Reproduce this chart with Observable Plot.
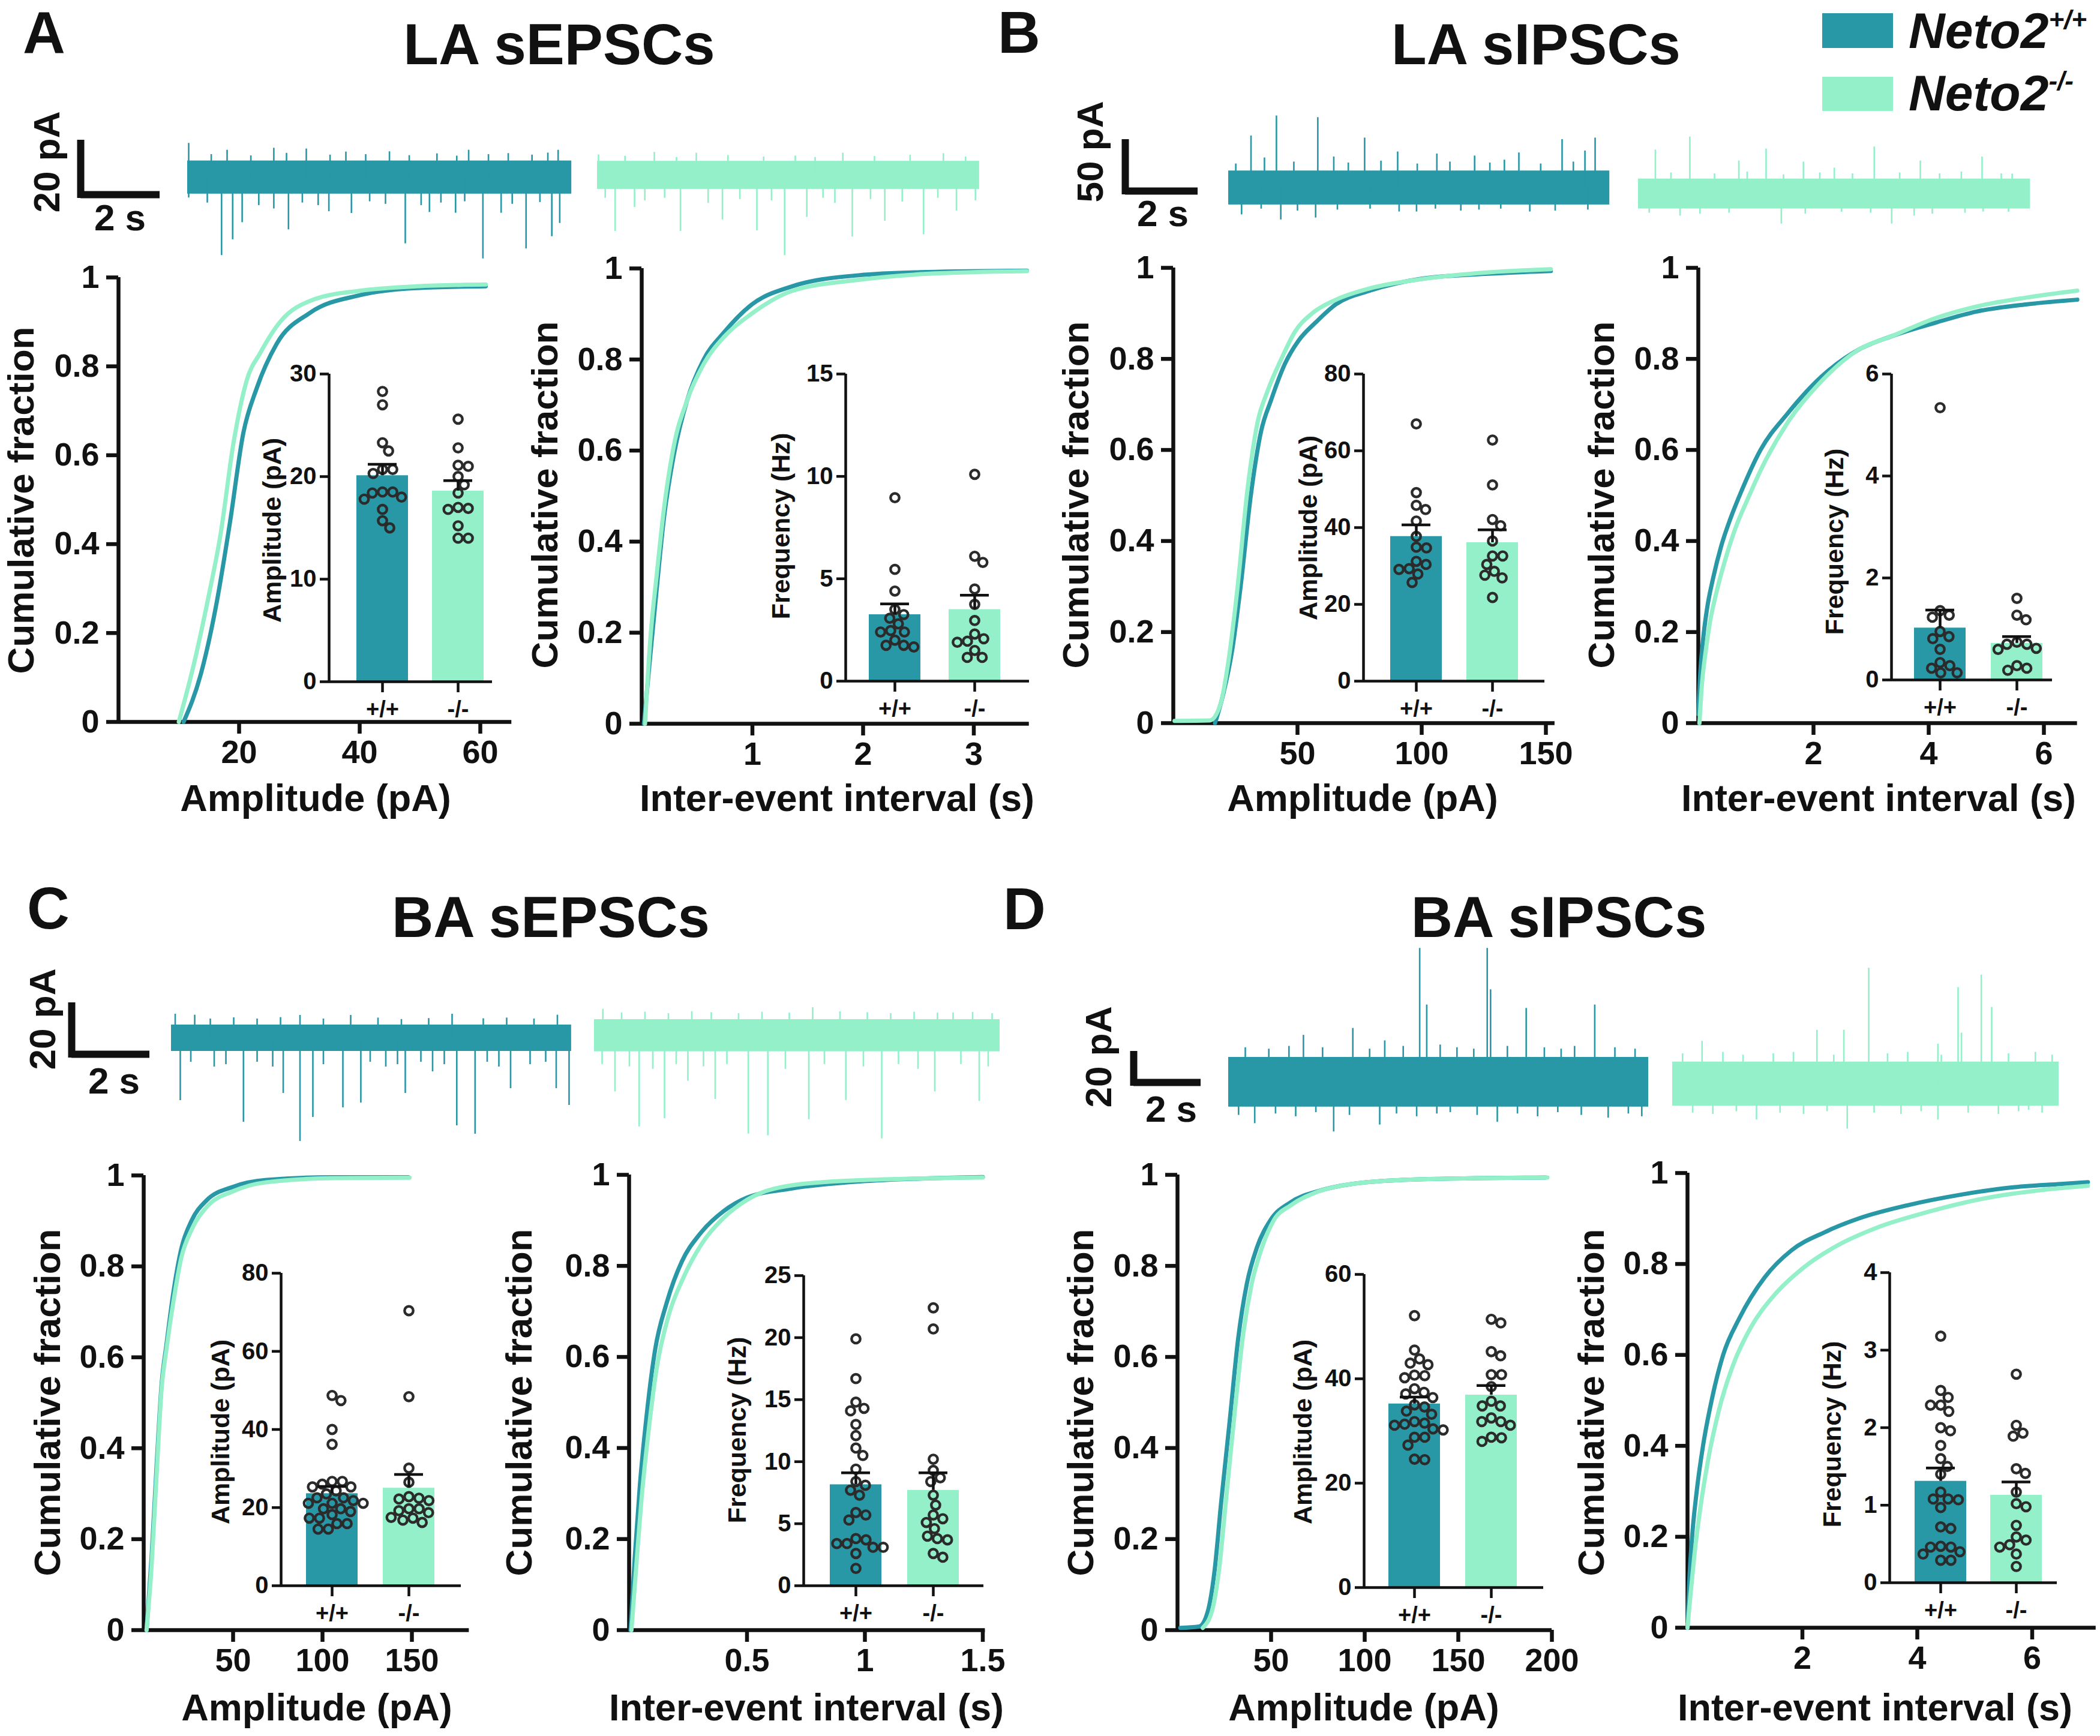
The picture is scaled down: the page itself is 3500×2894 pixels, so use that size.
<!DOCTYPE html>
<html><head><meta charset="utf-8">
<script src="https://cdn.jsdelivr.net/npm/d3@7"></script>
<script src="https://cdn.jsdelivr.net/npm/@observablehq/plot@0.6"></script>
<style>
html,body{margin:0;padding:0;background:#fff;}
#root{position:relative;width:3500px;height:2894px;background:#fff;overflow:hidden;}
#root > div{position:absolute;}
</style></head><body><div id="root"></div>
<script>
// ---------- DATA ----------
const groups = ["+/+", "-/-"];
const cumTicks = [0, 0.2, 0.4, 0.6, 0.8, 1];

// Panel A (LA sEPSCs)
const A_ampCdfWT = [[10.8,0],[13.6,0.105],[16.3,0.27],[18.5,0.45],[20.7,0.65],[22.9,0.75],[26.2,0.85],[31.7,0.92],[40,0.96],[49.4,0.976],[60.9,0.98]];
const A_ampCdfKO = [[10,0],[12.5,0.13],[14.9,0.28],[16.9,0.42],[19.1,0.63],[21.3,0.77],[23.5,0.83],[26.8,0.90],[32.3,0.95],[40,0.97],[49.4,0.98],[60.9,0.984]];
const A_ieiCdfWT = [[0.02,0],[0.076,0.146],[0.137,0.30],[0.2,0.45],[0.29,0.59],[0.41,0.71],[0.56,0.80],[0.745,0.86],[0.99,0.92],[1.35,0.96],[1.96,0.985],[2.57,0.992],[3.48,0.995]];
const A_ieiCdfKO = [[0.03,0],[0.076,0.18],[0.137,0.33],[0.2,0.47],[0.29,0.61],[0.41,0.71],[0.56,0.79],[0.745,0.85],[0.99,0.90],[1.35,0.95],[1.96,0.975],[2.57,0.988],[3.48,0.994]];
const A_ampTicks = [20, 40, 60];
const A_ieiTicks = [1, 2, 3];
const A_ampWT = [28.3,27.0,23.3,22.5,20.7,20.7,20.3,18.5,18.5,18.4,17.8,18.0,16.8,15.7,15.0];
const A_ampKO = [25.6,22.8,21.0,21.1,20.0,19.2,18.4,17.0,16.8,16.9,15.2,14.0,14.0];
const A_ampMean = [20.1, 18.6], A_ampSem = [1.1, 1.0];
const A_ampInsetTicks = [0, 10, 20, 30];
const A_freqWT = [8.96,5.46,4.4,3.5,2.8,3.07,3.25,2.4,2.4,2.47,2.0,1.67,1.75,1.75];
const A_freqKO = [10.1,5.8,6.1,4.5,3.75,2.96,2.3,1.95,2.07,1.9,1.16,1.5,1.16];
const A_freqMean = [3.25, 3.5], A_freqSem = [0.52, 0.7];
const A_freqInsetTicks = [0, 5, 10, 15];
const A_traceWT = [[0.86,-30.6],[1.14,-24.4],[1.38,-17.7],[2.55,-20.5],[3.57,-13.4],[4.14,-14.1],[5.5,-26],[6.11,-13.7],[6.77,-14],[7.46,-31.9],[7.92,-14],[8.55,-28],[9.2,-23.2],[9.4,-18],[0.03,-8],[2.18,-12.3],
  [0.03,13.4],[2.18,11.5],[3.0,11.2],[9.36,10.7],[5.1,10.1],[1.0,10.7],[4.0,10],[7.1,10.7],
  [0.5,-10],[1.8,-11],[2.9,-10],[3.3,-11],[4.6,-9.5],[5.0,-10.5],[5.9,-11],[6.4,-10],[7.0,-9.5],[8.2,-10.5],[8.9,-9.8],
  [0.6,9],[1.6,8.5],[2.5,9.5],[3.6,8.8],[4.5,9],[5.6,8.6],[6.3,9.3],[6.8,8.4],[7.6,9],[8.1,9.4],[8.7,8.8],[9.1,9.6]];
const A_traceKO = [[0.45,-22],[0.94,-12.6],[2.1,-22],[3.16,-17.5],[4.03,-21.8],[4.73,-31.5],[5.29,-16.5],[6.44,-24.2],[7.26,-18],[8.24,-23.3],[9.07,-14],[9.55,-10],
  [1.44,9],[2.5,8.7],[6.2,8.7],[8.74,8.5],[0.03,8],
  [0.2,-9],[1.2,-10],[1.7,-9],[2.8,-11],[3.6,-9.5],[4.4,-10],[5.7,-9],[6.0,-11],[6.9,-9.5],[7.7,-10.5],[8.6,-9],
  [0.7,7.5],[2.0,7],[3.3,7.8],[4.2,7.2],[5.0,7.6],[5.5,7],[7.0,7.4],[7.9,7.9],[9.3,7.2]];
const A_noise = [6.5, 5.5];
const A_dur = [9.7, 9.65];

// Panel B (LA sIPSCs)
const B_ampCdfWT = [[16.8,0],[20.2,0.066],[23.7,0.16],[27.1,0.30],[31.2,0.50],[35.3,0.64],[39.4,0.71],[45,0.79],[50.4,0.84],[57.3,0.88],[65.5,0.92],[79.2,0.95],[99.8,0.976],[127,0.987],[152,0.993]];
const B_ampCdfKO = [[0.5,0.005],[14.7,0.006],[18.9,0.04],[22.3,0.14],[25.7,0.29],[29.8,0.51],[33.9,0.66],[38,0.73],[43.5,0.80],[49,0.86],[55.9,0.90],[65.5,0.93],[79.2,0.955],[99.8,0.975],[127,0.99],[152,0.997]];
const B_ieiCdfWT = [[0,0.02],[0.03,0.1],[0.08,0.18],[0.15,0.25],[0.26,0.32],[0.4,0.39],[0.56,0.45],[0.75,0.51],[1.08,0.60],[1.55,0.68],[2.13,0.76],[2.78,0.82],[3.36,0.85],[4.13,0.88],[4.83,0.904],[5.71,0.92],[6.58,0.93]];
const B_ieiCdfKO = [[0.02,0],[0.06,0.08],[0.12,0.15],[0.2,0.22],[0.32,0.29],[0.47,0.36],[0.65,0.43],[0.85,0.49],[1.1,0.56],[1.55,0.66],[2.13,0.75],[2.78,0.82],[3.36,0.85],[4.13,0.89],[4.83,0.915],[5.71,0.935],[6.58,0.95]];
const B_ampTicks = [50, 100, 150];
const B_ieiTicks = [2, 4, 6];
const B_ampWT = [67.0,49.1,44.7,45.8,41.7,37.7,34.9,34.7,31.2,30.4,29.1,29.3,27.9,25.7];
const B_ampKO = [62.8,51.1,42.1,40.5,36.5,32.6,32.6,30.4,28.6,26.9,27.6,21.8];
const B_ampMean = [37.7, 36.1], B_ampSem = [3.0, 3.3];
const B_ampInsetTicks = [0, 20, 40, 60, 80];
const B_freqWT = [5.34,1.36,1.27,1.23,0.95,0.85,0.81,0.6,0.34,0.28,0.23,0.14,0.14];
const B_freqKO = [1.6,1.27,1.18,0.74,0.70,0.70,0.62,0.60,0.28,0.19,0.23];
const B_freqMean = [1.02, 0.72], B_freqSem = [0.35, 0.13];
const B_freqInsetTicks = [0, 2, 4, 6];
const B_traceWT = [[0.62,54.2],[1.32,75],[2.46,73.3],[0.99,31.3],[3.75,52],[5.74,35.4],[8.0,36.5],[9.19,50.4],[10.1,52],[4.66,37.5],[6.78,33.3],[9.82,38.5],[2.9,32.3],
  [1.44,-33.3],[2.4,-31.3],[5.18,-25],[6.4,-24],[8.3,-25],[0.36,-28],
  [0.2,25],[1.8,27],[3.3,26],[4.2,28],[5.2,25],[6.1,27],[7.2,26],[7.6,29],[8.6,25],[9.5,27],
  [0.9,-22],[1.9,-24],[3.0,-23],[3.9,-22],[4.7,-25],[5.7,-22],[6.9,-23],[7.5,-22],[9.0,-24],[9.9,-23]];
const B_traceKO = [[0.47,45.8],[1.42,59.4],[3.52,46.9],[4.55,33.3],[6.5,49],[7.77,34.4],[9.47,38.5],[2.77,34.4],[5.4,27],[10.3,20.8],
  [3.94,-31.3],[6.98,-31.3],[1.15,-23],[7.6,-23],[9.5,-18.8],
  [0.9,22],[2.1,21],[3.0,23],[4.0,20],[5.0,22],[5.9,21],[7.2,22],[8.3,21],[8.9,23],[10.0,21],
  [0.3,-20],[1.7,-21],[2.5,-20],[4.6,-21],[5.6,-19],[6.4,-20],[8.1,-21],[9.0,-20],[10.2,-19]];
const B_noise = [17.7, 15.6];
const B_dur = [10.5, 10.8];

// Panel C (BA sEPSCs)
const C_ampCdfWT = [[1.6,0],[4.4,0.16],[7.2,0.36],[10,0.54],[12.8,0.63],[16.5,0.74],[21.1,0.84],[26.7,0.90],[35.1,0.945],[50,0.975],[68.6,0.99],[106,0.996],[148,0.996]];
const C_ampCdfKO = [[1.6,0],[4.4,0.14],[7.2,0.34],[10,0.53],[12.8,0.62],[16.5,0.72],[21.1,0.82],[26.7,0.88],[35.1,0.93],[50,0.965],[68.6,0.985],[106,0.994],[148.7,0.995]];
const C_ieiCdfWT = [[0.006,0],[0.024,0.16],[0.046,0.32],[0.074,0.47],[0.11,0.615],[0.16,0.72],[0.224,0.81],[0.30,0.87],[0.40,0.92],[0.50,0.95],[0.69,0.97],[0.97,0.985],[1.5,0.995]];
const C_ieiCdfKO = [[0.01,0],[0.031,0.145],[0.053,0.29],[0.081,0.43],[0.117,0.575],[0.167,0.69],[0.231,0.775],[0.31,0.85],[0.40,0.905],[0.50,0.945],[0.69,0.977],[0.97,0.988],[1.5,0.994]];
const C_ampTicks = [50, 100, 150];
const C_ieiTicks = [0.5, 1, 1.5];
const C_ampWT = [48.7,47.4,40.0,36.2,26.7,26.7,26.0,25.3,25.3,24.3,23.5,22.5,22.5,21.8,21.1,21.1,21.1,19.7,19.7,19.0,18.2,17.3,17.3,15.9,15.9,14.5,14.5];
const C_ampKO = [70.4,48.4,30.1,26.5,22.4,21.8,22.2,22.8,19.7,19.2,18.7,19.7,17.3,16.8,16.2,17.5];
const C_ampMean = [23.6, 25.0], C_ampSem = [1.8, 3.5];
const C_ampInsetTicks = [0, 20, 40, 60, 80];
const C_freqWT = [19.9,16.7,14.8,14.3,14.1,13,12.1,11.1,10.5,9.4,8.4,8.1,7.3,7.7,5.9,5.7,5.3,3.7,3.8,3.4,3.1,3.1,3.4,2.6,1.4];
const C_freqKO = [22.4,20.7,10.2,8.7,9.3,8.4,7.3,6.5,5.7,5.4,5.1,4.6,4.0,3.8,3.7,2.6,2.3];
const C_freqMean = [8.15, 7.7], C_freqSem = [0.95, 1.4];
const C_freqInsetTicks = [0, 5, 10, 15, 20, 25];
const C_traceWT = [[0.23,-26],[1.85,-35],[2.87,-23],[3.3,-43],[3.63,-33],[4.4,-29],[4.86,-27],[6.0,-23],[7.32,-36.5],[7.79,-40],[8.7,-21],[9.87,-21],[10.2,-28],[1.1,-12],[5.5,-12],[6.7,-14],
  [0.6,9.6],[3.3,9.5],[4.6,9.5],[7.2,10],[9.9,9.6],[0.1,10],
  [0.5,-10],[1.4,-11],[2.2,-10],[2.6,-12],[3.9,-11],[5.1,-10],[5.8,-11],[6.4,-10],[7.0,-11],[8.1,-10],[8.4,-12],[9.2,-11],[9.6,-10],
  [1.0,8],[1.6,8.5],[2.2,8],[2.8,8.6],[3.9,8],[5.3,8.4],[5.9,7.8],[6.6,8.2],[8.0,8.1],[8.6,8.4],[9.3,8]];
const C_traceKO = [[0.53,-23.4],[1.15,-38],[1.8,-34.6],[3.95,-41],[4.45,-41.7],[5.5,-35],[7.37,-43],[8.73,-23.4],[9.87,-27.4],[3.1,-26.6],[6.45,-27],[2.4,-19],
  [0.22,11],[5.6,11.7],[9.2,9.5],[6.3,10],[2.5,10],
  [0.2,-12],[0.9,-13],[1.5,-14],[2.1,-12],[2.8,-13],[3.4,-12],[4.9,-14],[5.9,-12],[6.9,-13],[7.8,-12],[8.3,-14],[9.4,-12],[10.1,-13],
  [0.7,9.5],[1.3,9.8],[1.9,9.2],[3.0,9.6],[3.7,9.2],[4.3,9.8],[5.0,9.4],[7.0,9.6],[7.6,9.2],[8.2,9.8],[8.8,9.4],[9.7,9.7],[10.2,9.2]];
const C_noise = [5.5, 6.7];
const C_dur = [10.26, 10.4];

// Panel D (BA sIPSCs)
const D_ampCdfWT = [[1.5,0.005],[11.5,0.008],[16.1,0.04],[19.7,0.127],[23.3,0.28],[27.9,0.46],[32.4,0.64],[37,0.76],[42.4,0.84],[49.6,0.90],[60.5,0.94],[75,0.964],[93.2,0.98],[129,0.99],[196.6,0.994]];
const D_ampCdfKO = [[13.5,0.005],[18.8,0.048],[22.4,0.14],[26,0.29],[30.6,0.48],[35.1,0.65],[39.6,0.76],[45.1,0.84],[51.4,0.90],[60.5,0.933],[75,0.963],[93.2,0.98],[129,0.99],[197.6,0.994]];
const D_ieiCdfWT = [[0,0],[0.03,0.1],[0.08,0.2],[0.16,0.3],[0.27,0.4],[0.42,0.5],[0.62,0.6],[0.9,0.68],[1.34,0.77],[1.81,0.83],[2.39,0.87],[2.98,0.90],[3.86,0.93],[4.74,0.952],[5.62,0.968],[6.5,0.976],[6.97,0.98]];
const D_ieiCdfKO = [[0,0],[0.05,0.07],[0.12,0.16],[0.22,0.26],[0.36,0.37],[0.55,0.48],[0.8,0.58],[1.1,0.66],[1.5,0.73],[2.0,0.79],[2.6,0.84],[3.3,0.88],[4.2,0.915],[5.2,0.945],[6.2,0.963],[6.97,0.972]];
const D_ampTicks = [50, 100, 150, 200];
const D_ieiTicks = [2, 4, 6];
const D_ampWT = [52.1,45.5,43.8,43,42.7,40.7,40.6,40.2,38.1,37.4,37.1,36.4,35,34.6,33.8,33.2,31.8,31.5,31.3,31.1,30.4,30.2,28.8,28.8,27.3,24.6,24.5];
const D_ampKO = [51.4,50.7,45.2,44.4,40.8,40.8,38.5,35.7,34.8,34.8,32.5,31.8,31.1,31.8,28.8,28.7,28];
const D_ampMean = [35.2, 36.9], D_ampSem = [1.3, 1.8];
const D_ampInsetTicks = [0, 20, 40, 60];
const D_freqWT = [3.18,2.48,2.39,2.29,2.29,2.21,2.0,1.96,1.77,1.6,1.5,1.4,1.17,1.08,1.08,1.07,0.97,0.72,0.7,0.47,0.46,0.40,0.37,0.46,0.29,0.29];
const D_freqKO = [2.69,2.03,1.89,1.93,1.47,1.41,1.17,0.98,1.02,0.74,0.59,0.55,0.49,0.46,0.37,0.21];
const D_freqMean = [1.31, 1.13], D_freqSem = [0.17, 0.17];
const D_freqInsetTicks = [0, 1, 2, 3, 4];
const D_traceWT = [[5.69,97],[7.7,97],[7.8,67],[5.9,56],[8.86,53.5],[10.9,56],[3.7,39],[2.23,34],[4.65,30],[6.3,27],[10.3,26],
  [3.13,-36],[0.78,-30],[4.5,-31],[8.0,-29],[11.3,-26],[6.2,-23],
  [0.5,25],[1.2,24],[1.8,26],[2.8,25],[4.2,24],[5.2,26],[6.8,25],[7.3,24],[8.3,26],[9.4,25],[9.9,24],[11.5,25],[12.1,24],
  [0.3,-24],[1.4,-23],[2.0,-25],[2.6,-22],[3.6,-24],[5.0,-23],[5.6,-25],[6.6,-22],[7.4,-24],[8.6,-23],[9.2,-25],[9.8,-22],[10.5,-24],[11.9,-23],[12.3,-25]];
const D_traceKO = [[5.84,84],[9.19,79],[8.5,70],[9.5,55.6],[4.3,39],[5.1,39],[8.6,37],[7.9,29],[0.88,31],
  [5.2,-32.6],[2.5,-26],[7.9,-26],[10.6,-19],
  [0.3,22],[1.5,23],[2.1,21],[3.0,22],[3.6,23],[4.8,21],[6.4,22],[7.0,23],[8.0,21],[10.0,22],[10.8,23],[11.3,21],
  [0.6,-21],[1.2,-22],[1.9,-20],[3.2,-21],[3.9,-22],[4.6,-20],[6.0,-21],[6.8,-22],[7.4,-20],[8.8,-21],[9.7,-22],[10.3,-20],[11.0,-21]];
const D_noise = [18, 16];
const D_dur = [12.5, 11.5];

// ---------- STYLE & LAYOUT ----------
const DARK = "#2897a6", MINT = "#93f0c9", INK = "#111111", DOT = "#2b2b2b";
const FONT = "'Liberation Sans', Arial, Helvetica, sans-serif";

const cdfLayout = {
  A1: {ax:197, ppu:10.05, xMax:65.2, y1:462, y0:1203},
  A2: {ax:1069, ppu:184.5, xMax:3.5, y1:447, y0:1206},
  B1: {ax:1955, ppu:4.14, xMax:153.6, y1:446, y0:1205},
  B2: {ax:2830, ppu:96, xMax:6.58, y1:446, y0:1205},
  C1: {ax:239, ppu:2.98, xMax:182, y1:1959, y0:2717},
  C2: {ax:1048, ppu:393, xMax:1.51, y1:1958, y0:2717},
  D1: {ax:1962, ppu:3.12, xMax:200, y1:1958, y0:2717},
  D2: {ax:2812, ppu:95.75, xMax:7.11, y1:1955, y0:2713}
};
const insetLayout = {
  A1: {yaxis:548, right:820, c0:637, c1:763, y0:1136, yTop:623},
  A2: {yaxis:1409, right:1715, c0:1491, c1:1624, y0:1135, yTop:623},
  B1: {yaxis:2272, right:2574, c0:2360, c1:2487, y0:1135, yTop:623},
  B2: {yaxis:3152, right:3420, c0:3233, c1:3361, y0:1133, yTop:623},
  C1: {yaxis:468, right:768, c0:553, c1:681, y0:2643, yTop:2122},
  C2: {yaxis:1339, right:1639, c0:1426, c1:1555, y0:2643, yTop:2126},
  D1: {yaxis:2273, right:2572, c0:2357, c1:2485, y0:2646, yTop:2124},
  D2: {yaxis:3149, right:3428, c0:3234, c1:3360, y0:2638, yTop:2121}
};
const traceLayout = {
  A: {pps:66, ppa:4.25, wt:{x0:312, base:295}, ko:{x0:995, base:291}, bar:{cx:134, cy:324, pa:20}},
  B: {pps:60.5, ppa:1.6, wt:{x0:2047, base:313}, ko:{x0:2730, base:323}, bar:{cx:1875, cy:318, pa:50}},
  C: {pps:65, ppa:4.0, wt:{x0:285, base:1730}, ko:{x0:990, base:1726}, bar:{cx:119, cy:1757, pa:20}},
  D: {pps:56, ppa:2.3, wt:{x0:2047, base:1803}, ko:{x0:2787, base:1806}, bar:{cx:1889, cy:1804, pa:20}}
};

// ---------- HELPERS ----------
const root = document.getElementById("root");
function place(node, left, top) {
  const d = document.createElement("div");
  d.style.left = left + "px"; d.style.top = top + "px";
  d.appendChild(node); root.appendChild(d); return d;
}
const svgStyle = fs => `background:transparent;overflow:visible;max-width:none;font-family:${FONT};font-size:${fs}px;font-weight:bold;color:${INK};`;

function cdfPlot(L, wt, ko, xTicks) {
  const ML = 150, MR = 30, MT = 30, MB = 90;
  const w = L.xMax * L.ppu, h = L.y0 - L.y1;
  const rows = [...wt.map(([x, y]) => ({x, y, g: groups[0]})), ...ko.map(([x, y]) => ({x, y, g: groups[1]}))];
  const p = Plot.plot({
    width: ML + w + MR, height: MT + h + MB,
    marginLeft: ML, marginRight: MR, marginTop: MT, marginBottom: MB,
    style: svgStyle(54),
    x: {domain: [0, L.xMax], label: null},
    y: {domain: [0, 1], label: null},
    color: {domain: groups, range: [DARK, MINT]},
    marks: [
      Plot.ruleX([0], {y1: 0, y2: 1, stroke: INK, strokeWidth: 6.5}),
      Plot.ruleY([0], {x1: 0, x2: L.xMax, stroke: INK, strokeWidth: 6.5}),
      Plot.axisY({ticks: cumTicks, tickFormat: d => String(d), tickSize: 20, tickPadding: 12, fontSize: 54, fontWeight: "bold", stroke: INK, strokeWidth: 6.5, label: null}),
      Plot.axisX({ticks: xTicks, tickFormat: d => String(d), tickSize: 20, tickPadding: 10, fontSize: 54, fontWeight: "bold", stroke: INK, strokeWidth: 6.5, label: null}),
      Plot.line(rows, {x: "x", y: "y", z: "g", stroke: "g", strokeWidth: 7, curve: "monotone-x", strokeLinejoin: "round"})
    ]
  });
  place(p, L.ax - ML, L.y1 - MT);
}

function swarm(values, pxPerUnit, D) {
  const idx = d3.range(values.length).sort((a, b) => values[b] - values[a]);
  const placed = [], off = new Array(values.length);
  for (const k of idx) {
    const y = values[k] * pxPerUnit;
    const iv = [];
    for (const p of placed) {
      const dy = Math.abs(p.y - y);
      if (dy < D) { const w = Math.sqrt(D * D - dy * dy); iv.push([p.x - w, p.x + w]); }
    }
    const cands = [0]; iv.forEach(([a, b]) => cands.push(a, b));
    cands.sort((a, b) => Math.abs(a) - Math.abs(b) || b - a);
    let x = 0;
    for (const c of cands) if (iv.every(([a, b]) => c <= a + 1e-6 || c >= b - 1e-6)) { x = c; break; }
    placed.push({x, y}); off[k] = x;
  }
  return off;
}

function insetPlot(L, wtVals, koVals, means, sems, yTicks) {
  const ML = 110, MR = 15, MT = 30, MB = 90;
  const yMax = yTicks[yTicks.length - 1];
  const step = L.c1 - L.c0;
  const d0 = (L.yaxis - L.c0) / step, d1 = (L.right - L.c0) / step;
  const w = L.right - L.yaxis, h = L.y0 - L.yTop;
  const pxPerUnit = h / yMax;
  const bw = 43 / step, cw = 24 / step;
  const bars = means.map((m, i) => ({i, g: groups[i], mean: m, top: m + sems[i]}));
  const pts = [];
  [wtVals, koVals].forEach((vals, i) => {
    const off = swarm(vals, pxPerUnit, 17);
    vals.forEach((v, k) => pts.push({i, v, x: i + off[k] / step}));
  });
  const p = Plot.plot({
    width: ML + w + MR, height: MT + h + MB,
    marginLeft: ML, marginRight: MR, marginTop: MT, marginBottom: MB,
    style: svgStyle(40),
    x: {domain: [d0, d1], label: null},
    y: {domain: [0, yMax], label: null},
    color: {domain: groups, range: [DARK, MINT]},
    marks: [
      Plot.rectY(bars, {x1: d => d.i - bw, x2: d => d.i + bw, y1: 0, y2: "mean", fill: "g"}),
      Plot.dot(pts, {x: "x", y: "v", r: 7.2, stroke: DOT, strokeWidth: 4.4, fill: "none"}),
      Plot.ruleX(bars, {x: "i", y1: "mean", y2: "top", stroke: INK, strokeWidth: 4.5}),
      Plot.ruleY(bars, {y: "top", x1: d => d.i - cw, x2: d => d.i + cw, stroke: INK, strokeWidth: 4.5}),
      Plot.ruleX([d0], {y1: 0, y2: yMax, stroke: INK, strokeWidth: 4.5}),
      Plot.ruleY([0], {x1: d0, x2: d1, stroke: INK, strokeWidth: 4.5}),
      Plot.axisY({ticks: yTicks, tickFormat: d => String(d), tickSize: 15, tickPadding: 6, fontSize: 40, fontWeight: "bold", stroke: INK, strokeWidth: 4.5, label: null}),
      Plot.axisX({ticks: [0, 1], tickFormat: i => groups[i], tickSize: 18, tickPadding: 14, fontSize: 38, fontWeight: "bold", stroke: INK, strokeWidth: 4.5, label: null})
    ]
  });
  place(p, L.yaxis - ML, L.yTop - MT);
}

function tracePlot(spikes, noise, dur, color, S, pos) {
  const amps = spikes.map(d => d[1]);
  const yMin = Math.min(-noise, d3.min(amps)) - 1, yMax = Math.max(noise, d3.max(amps)) + 1;
  const w = dur * S.pps, h = (yMax - yMin) * S.ppa;
  const p = Plot.plot({
    width: w, height: h, margin: 0, style: svgStyle(10),
    x: {domain: [0, dur], axis: null}, y: {domain: [yMin, yMax], axis: null},
    marks: [
      Plot.rect([{t0: 0, t1: dur, lo: -noise, hi: noise}], {x1: "t0", x2: "t1", y1: "lo", y2: "hi", fill: color}),
      Plot.ruleX(spikes, {x: d => d[0], y1: 0, y2: d => d[1], stroke: color, strokeWidth: 2.6})
    ]
  });
  place(p, pos.x0, pos.base - yMax * S.ppa);
}

function scaleBar(S) {
  const M = 12, B = S.bar;
  const w = 2 * S.pps, h = B.pa * S.ppa;
  const p = Plot.plot({
    width: w + 2 * M, height: h + 2 * M, margin: M, style: svgStyle(10),
    x: {domain: [0, 2], axis: null}, y: {domain: [0, B.pa], axis: null},
    marks: [
      Plot.ruleX([0], {y1: 0, y2: B.pa, stroke: INK, strokeWidth: 12, strokeLinecap: "square"}),
      Plot.ruleY([0], {x1: 0, x2: 2, stroke: INK, strokeWidth: 12})
    ]
  });
  place(p, B.cx - M, B.cy - h - M);
}

// ---------- BUILD ----------
const panels = {
  A: {cdf: [[A_ampCdfWT, A_ampCdfKO, A_ampTicks], [A_ieiCdfWT, A_ieiCdfKO, A_ieiTicks]],
      inset: [[A_ampWT, A_ampKO, A_ampMean, A_ampSem, A_ampInsetTicks], [A_freqWT, A_freqKO, A_freqMean, A_freqSem, A_freqInsetTicks]],
      trace: [A_traceWT, A_traceKO, A_noise, A_dur]},
  B: {cdf: [[B_ampCdfWT, B_ampCdfKO, B_ampTicks], [B_ieiCdfWT, B_ieiCdfKO, B_ieiTicks]],
      inset: [[B_ampWT, B_ampKO, B_ampMean, B_ampSem, B_ampInsetTicks], [B_freqWT, B_freqKO, B_freqMean, B_freqSem, B_freqInsetTicks]],
      trace: [B_traceWT, B_traceKO, B_noise, B_dur]},
  C: {cdf: [[C_ampCdfWT, C_ampCdfKO, C_ampTicks], [C_ieiCdfWT, C_ieiCdfKO, C_ieiTicks]],
      inset: [[C_ampWT, C_ampKO, C_ampMean, C_ampSem, C_ampInsetTicks], [C_freqWT, C_freqKO, C_freqMean, C_freqSem, C_freqInsetTicks]],
      trace: [C_traceWT, C_traceKO, C_noise, C_dur]},
  D: {cdf: [[D_ampCdfWT, D_ampCdfKO, D_ampTicks], [D_ieiCdfWT, D_ieiCdfKO, D_ieiTicks]],
      inset: [[D_ampWT, D_ampKO, D_ampMean, D_ampSem, D_ampInsetTicks], [D_freqWT, D_freqKO, D_freqMean, D_freqSem, D_freqInsetTicks]],
      trace: [D_traceWT, D_traceKO, D_noise, D_dur]}
};

for (const key of ["A", "B", "C", "D"]) {
  const P = panels[key];
  P.cdf.forEach(([wt, ko, ticks], j) => cdfPlot(cdfLayout[key + (j + 1)], wt, ko, ticks));
  P.inset.forEach(([wt, ko, m, s, ticks], j) => insetPlot(insetLayout[key + (j + 1)], wt, ko, m, s, ticks));
  const S = traceLayout[key];
  const [tw, tk, noise, dur] = P.trace;
  tracePlot(tw, noise[0], dur[0], DARK, S, S.wt);
  tracePlot(tk, noise[1], dur[1], MINT, S, S.ko);
  scaleBar(S);
}

// ---------- TEXT OVERLAY ----------
const ov = d3.select(root).append("svg").attr("width", 3500).attr("height", 2894)
  .style("position", "absolute").style("left", "0px").style("top", "0px")
  .attr("font-family", FONT).attr("font-weight", "bold").attr("fill", INK);
function label(str, x, y, size, opts = {}) {
  const t = ov.append("text").attr("x", x).attr("y", y).attr("font-size", size)
    .attr("text-anchor", opts.anchor || "middle");
  if (opts.rotate) t.attr("transform", `rotate(${opts.rotate},${x},${y})`);
  if (opts.italic) t.attr("font-style", "italic");
  t.text(str);
  return t;
}
// panel letters
label("A", 38, 88, 98, {anchor: "start"});
label("B", 1663, 88, 98, {anchor: "start"});
label("C", 45, 1548, 98, {anchor: "start"});
label("D", 1672, 1549, 98, {anchor: "start"});
// titles
label("LA sEPSCs", 932, 107, 96);
label("LA sIPSCs", 2560, 107, 96);
label("BA sEPSCs", 918, 1562, 96);
label("BA sIPSCs", 2598, 1562, 96);
// legend
ov.append("rect").attr("x", 3037).attr("y", 22).attr("width", 118).attr("height", 58).attr("fill", DARK);
ov.append("rect").attr("x", 3037).attr("y", 128).attr("width", 118).attr("height", 57).attr("fill", MINT);
label("Neto2", 3181, 80, 84, {anchor: "start", italic: true}).append("tspan").attr("dy", -32).attr("font-size", 44).text(groups[0]);
label("Neto2", 3181, 184, 84, {anchor: "start", italic: true}).append("tspan").attr("dy", -34).attr("font-size", 44).text(groups[1]);
// scale bar labels
label("20 pA", 99, 270, 62, {rotate: -90});
label("2 s", 200, 384, 62);
label("50 pA", 1838, 253, 62, {rotate: -90});
label("2 s", 1938, 377, 62);
label("20 pA", 92, 1699, 62, {rotate: -90});
label("2 s", 190, 1823, 62);
label("20 pA", 1852, 1762, 62, {rotate: -90});
label("2 s", 1952, 1870, 62);
// cumulative axis titles
[[56, 834], [929, 825], [1814, 825], [2690, 825], [100, 2338], [886, 2338], [1822, 2338], [2673, 2338]]
  .forEach(([x, y]) => label("Cumulative fraction", x, y, 62, {rotate: -90}));
[["Amplitude (pA)", 526, 1352], ["Inter-event interval (s)", 1395, 1352], ["Amplitude (pA)", 2271, 1352], ["Inter-event interval (s)", 3131, 1352],
 ["Amplitude (pA)", 528, 2868], ["Inter-event interval (s)", 1344, 2868], ["Amplitude (pA)", 2273, 2868], ["Inter-event interval (s)", 3125, 2868]]
  .forEach(([s, x, y]) => label(s, x, y, 63));
// inset y titles
[["Amplitude (pA)", 468, 884], ["Frequency (Hz)", 1316, 877], ["Amplitude (pA)", 2195, 880], ["Frequency (Hz)", 3072, 903],
 ["Amplitude (pA)", 382, 2387], ["Frequency (Hz)", 1243, 2384], ["Amplitude (pA)", 2186, 2387], ["Frequency (Hz)", 3068, 2391]]
  .forEach(([s, x, y]) => label(s, x, y, 43, {rotate: -90}));
</script>
</body></html>
